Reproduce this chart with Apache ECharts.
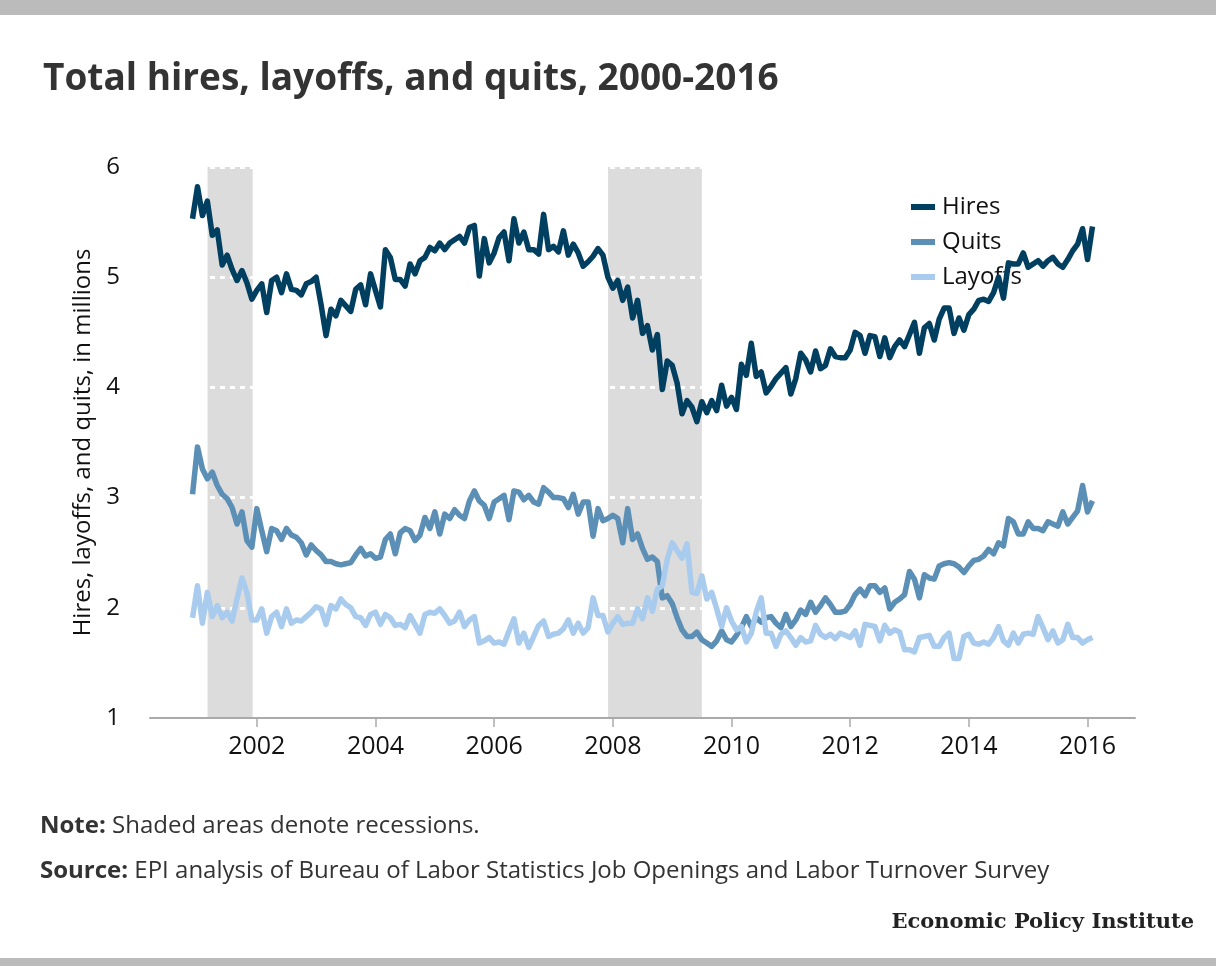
<!DOCTYPE html>
<html>
<head>
<meta charset="utf-8">
<script src="https://cdn.jsdelivr.net/npm/echarts@6/dist/echarts.min.js"></script>
<style>
  html, body { margin: 0; padding: 0; background: #fff; }
  #main { width: 1216px; height: 966px; }
</style>
</head>
<body>
<div id="main"></div>
<script>
// monthly data, Dec 2000 .. Feb 2016 (millions)
var firstYear = 2000, firstMonth = 12;

var hires = [
  5.53, 5.82, 5.56, 5.69, 5.38, 5.43, 5.11, 5.20, 5.07, 4.97, 5.06, 4.95,
  4.80, 4.88, 4.94, 4.68, 4.97, 5.00, 4.86, 5.03, 4.89, 4.88, 4.84, 4.94,
  4.96, 5.00, 4.75, 4.47, 4.71, 4.65, 4.79, 4.74, 4.69, 4.89, 4.93, 4.75,
  5.03, 4.88, 4.73, 5.25, 5.18, 4.98, 4.98, 4.92, 5.12, 5.03, 5.15, 5.18,
  5.27, 5.24, 5.31, 5.25, 5.31, 5.34, 5.37, 5.31, 5.45, 5.47, 5.01, 5.35,
  5.13, 5.22, 5.36, 5.41, 5.15, 5.53, 5.31, 5.41, 5.25, 5.25, 5.21, 5.57,
  5.25, 5.28, 5.23, 5.42, 5.20, 5.30, 5.22, 5.10, 5.14, 5.19, 5.26, 5.20,
  5.00, 4.90, 4.97, 4.79, 4.91, 4.63, 4.79, 4.49, 4.56, 4.34, 4.48, 3.98,
  4.24, 4.20, 4.04, 3.76, 3.88, 3.82, 3.69, 3.87, 3.77, 3.88, 3.79, 4.02,
  3.83, 3.91, 3.80, 4.21, 4.11, 4.40, 4.10, 4.14, 3.95, 4.01, 4.08, 4.13,
  4.18, 3.94, 4.08, 4.31, 4.25, 4.14, 4.33, 4.17, 4.20, 4.35, 4.28, 4.27,
  4.27, 4.34, 4.50, 4.47, 4.31, 4.47, 4.46, 4.28, 4.45, 4.27, 4.37, 4.43,
  4.37, 4.48, 4.59, 4.31, 4.54, 4.58, 4.43, 4.62, 4.72, 4.72, 4.49, 4.63,
  4.52, 4.66, 4.71, 4.79, 4.80, 4.78, 4.86, 5.00, 4.81, 5.13, 5.12, 5.12,
  5.22, 5.09, 5.12, 5.15, 5.10, 5.15, 5.18, 5.12, 5.09, 5.16, 5.24, 5.30,
  5.44, 5.16, 5.46
];

var quits = [
  3.03, 3.46, 3.26, 3.17, 3.23, 3.11, 3.03, 2.99, 2.91, 2.76, 2.87, 2.61,
  2.55, 2.90, 2.70, 2.51, 2.72, 2.70, 2.62, 2.72, 2.66, 2.64, 2.59, 2.48,
  2.57, 2.52, 2.48, 2.42, 2.42, 2.40, 2.39, 2.40, 2.41, 2.48, 2.54, 2.47,
  2.49, 2.45, 2.46, 2.62, 2.67, 2.49, 2.68, 2.72, 2.70, 2.61, 2.66, 2.82,
  2.72, 2.87, 2.67, 2.85, 2.81, 2.89, 2.84, 2.81, 2.97, 3.06, 2.97, 2.93,
  2.81, 2.96, 2.99, 3.02, 2.80, 3.06, 3.05, 2.98, 3.02, 2.96, 2.94, 3.09,
  3.05, 3.00, 3.00, 2.99, 2.91, 3.03, 2.85, 2.96, 2.96, 2.65, 2.90, 2.79,
  2.81, 2.84, 2.81, 2.59, 2.90, 2.62, 2.67, 2.54, 2.44, 2.46, 2.42, 2.09,
  2.11, 2.04, 1.91, 1.80, 1.74, 1.74, 1.78, 1.71, 1.68, 1.65, 1.70, 1.79,
  1.71, 1.69, 1.75, 1.82, 1.92, 1.83, 1.91, 1.87, 1.91, 1.92, 1.86, 1.82,
  1.94, 1.83, 1.89, 1.98, 1.94, 2.05, 1.96, 2.02, 2.09, 2.03, 1.96, 1.96,
  1.97, 2.03, 2.12, 2.17, 2.11, 2.20, 2.20, 2.14, 2.18, 1.99, 2.05, 2.08,
  2.12, 2.33, 2.26, 2.09, 2.30, 2.27, 2.26, 2.38, 2.40, 2.41, 2.40, 2.37,
  2.32, 2.38, 2.43, 2.44, 2.47, 2.53, 2.49, 2.59, 2.56, 2.81, 2.78, 2.67,
  2.67, 2.78, 2.72, 2.72, 2.70, 2.78, 2.76, 2.74, 2.87, 2.76, 2.82, 2.88,
  3.11, 2.87, 2.97
];

var layoffs = [
  1.91, 2.20, 1.86, 2.14, 1.92, 2.02, 1.91, 1.96, 1.88, 2.08, 2.27, 2.14,
  1.89, 1.89, 1.99, 1.77, 1.92, 1.96, 1.83, 1.99, 1.86, 1.89, 1.88, 1.92,
  1.96, 2.01, 1.99, 1.85, 2.02, 1.99, 2.08, 2.03, 2.00, 1.92, 1.91, 1.84,
  1.94, 1.96, 1.85, 1.94, 1.91, 1.84, 1.85, 1.82, 1.93, 1.85, 1.77, 1.94,
  1.96, 1.95, 1.99, 1.93, 1.86, 1.88, 1.96, 1.83, 1.89, 1.92, 1.68, 1.70,
  1.73, 1.68, 1.69, 1.67, 1.79, 1.90, 1.68, 1.77, 1.64, 1.74, 1.84, 1.88,
  1.74, 1.76, 1.77, 1.81, 1.89, 1.77, 1.86, 1.77, 1.82, 2.09, 1.93, 1.93,
  1.78, 1.86, 1.92, 1.85, 1.86, 1.86, 1.99, 1.90, 2.09, 1.97, 2.17, 2.20,
  2.44, 2.59, 2.52, 2.45, 2.58, 2.14, 2.13, 2.29, 2.08, 2.14, 1.99, 1.83,
  2.00, 1.88, 1.80, 1.83, 1.69, 1.77, 1.96, 2.09, 1.77, 1.77, 1.65, 1.76,
  1.79, 1.73, 1.66, 1.73, 1.69, 1.70, 1.84, 1.76, 1.73, 1.76, 1.72, 1.77,
  1.75, 1.73, 1.79, 1.66, 1.85, 1.84, 1.83, 1.70, 1.84, 1.77, 1.80, 1.78,
  1.62, 1.62, 1.60, 1.73, 1.74, 1.75, 1.65, 1.65, 1.73, 1.77, 1.54, 1.54,
  1.74, 1.76, 1.68, 1.67, 1.69, 1.67, 1.73, 1.83, 1.70, 1.66, 1.77, 1.68,
  1.76, 1.77, 1.76, 1.92, 1.82, 1.71, 1.79, 1.68, 1.71, 1.85, 1.73, 1.73,
  1.68, 1.71, 1.73
];

var yearTicks = [2002, 2004, 2006, 2008, 2010, 2012, 2014, 2016];
// recessions as decimal years (Mar-Nov 2001, Dec 2007-Jun 2009)
var recessions = [[2001.17, 2001.93], [2007.92, 2009.5]];

// month index -> decimal year (Jan = .0)
function toPairs(values) {
  var out = [];
  for (var i = 0; i < values.length; i++) {
    var m = firstMonth - 1 + i;
    out.push([firstYear + m / 12, values[i]]);
  }
  return out;
}

var font = "Open Sans";
var chart = echarts.init(document.getElementById("main"));

chart.setOption({
  backgroundColor: "#ffffff",
  animation: false,
  textStyle: { fontFamily: font },
  title: {
    text: "Total hires, layoffs, and quits, 2000-2016",
    left: 38,
    top: 56,
    textStyle: { fontFamily: font, fontSize: 37, fontWeight: "bold", color: "#333333" }
  },
  legend: {
    orient: "vertical",
    left: 906,
    top: 190,
    itemWidth: 24,
    itemHeight: 6,
    itemGap: 11,
    icon: "rect",
    textStyle: { fontFamily: font, fontSize: 24, color: "#111111", lineHeight: 24, padding: [0, 0, 0, 2] },
    data: ["Hires", "Quits", "Layoffs"]
  },
  grid: { left: 150, right: 81, top: 167, bottom: 248 },
  xAxis: {
    type: "value",
    min: 2000.2,
    max: 2016.8,
    z: 3,
    splitLine: { show: false },
    axisLine: { lineStyle: { color: "#aaaaaa", width: 2 } },
    axisTick: { show: true, length: 9, lineStyle: { color: "#aaaaaa", width: 1.5 }, customValues: yearTicks },
    axisLabel: {
      customValues: yearTicks,
      formatter: function (v) { return String(Math.round(v)); },
      fontFamily: font, fontSize: 25, color: "#111111", margin: 16
    }
  },
  yAxis: {
    type: "value",
    min: 1,
    max: 6,
    interval: 1,
    z: 2,
    name: "Hires, layoffs, and quits, in millions",
    nameLocation: "middle",
    nameGap: 54,
    nameTextStyle: { fontFamily: font, fontSize: 24, color: "#111111" },
    axisLine: { show: false },
    axisTick: { show: false },
    axisLabel: { fontFamily: font, fontSize: 24, color: "#111111", margin: 30, padding: [4, 0, 0, 0] },
    splitLine: { show: true, lineStyle: { color: "#ffffff", width: 3, type: [5, 5] } }
  },
  series: [
    {
      // recession shading, kept under the dotted grid lines
      name: "recessions",
      type: "line",
      z: 1,
      data: [],
      silent: true,
      markArea: {
        silent: true,
        itemStyle: { color: "#dcdcdc" },
        data: recessions.map(function (r) { return [{ xAxis: r[0] }, { xAxis: r[1] }]; })
      }
    },
    {
      name: "Hires",
      type: "line",
      z: 4,
      showSymbol: false,
      symbol: "none",
      color: "#003f5f",
      lineStyle: { width: 5.5, color: "#003f5f", join: "round" },
      data: toPairs(hires)
    },
    {
      name: "Quits",
      type: "line",
      z: 4,
      showSymbol: false,
      symbol: "none",
      color: "#5b8fb5",
      lineStyle: { width: 5.5, color: "#5b8fb5", join: "round" },
      data: toPairs(quits)
    },
    {
      name: "Layoffs",
      type: "line",
      z: 4,
      showSymbol: false,
      symbol: "none",
      color: "#a9ccee",
      lineStyle: { width: 5.5, color: "#a9ccee", join: "round" },
      data: toPairs(layoffs)
    }
  ],
  graphic: [
    { type: "rect", left: 0, top: 0, shape: { width: 1216, height: 15 }, style: { fill: "#bbbbbb" } },
    { type: "rect", left: 0, top: 958, shape: { width: 1216, height: 8 }, style: { fill: "#bbbbbb" } },
    {
      type: "text", left: 40, top: 814,
      style: {
        text: "{b|Note:} Shaded areas denote recessions.",
        font: "24px '" + font + "'", fill: "#333333",
        rich: { b: { fontFamily: font, fontSize: 24, fontWeight: "bold", fill: "#333333" } }
      }
    },
    {
      type: "text", left: 40, top: 859,
      style: {
        text: "{b|Source:} EPI analysis of Bureau of Labor Statistics Job Openings and Labor Turnover Survey",
        font: "24px '" + font + "'", fill: "#333333",
        rich: { b: { fontFamily: font, fontSize: 24, fontWeight: "bold", fill: "#333333" } }
      }
    },
    {
      type: "text", right: 22, top: 912,
      style: {
        text: "Economic Policy Institute",
        font: "bold 21px 'DejaVu Serif'", fill: "#222222"
      }
    }
  ]
});
</script>
</body>
</html>
